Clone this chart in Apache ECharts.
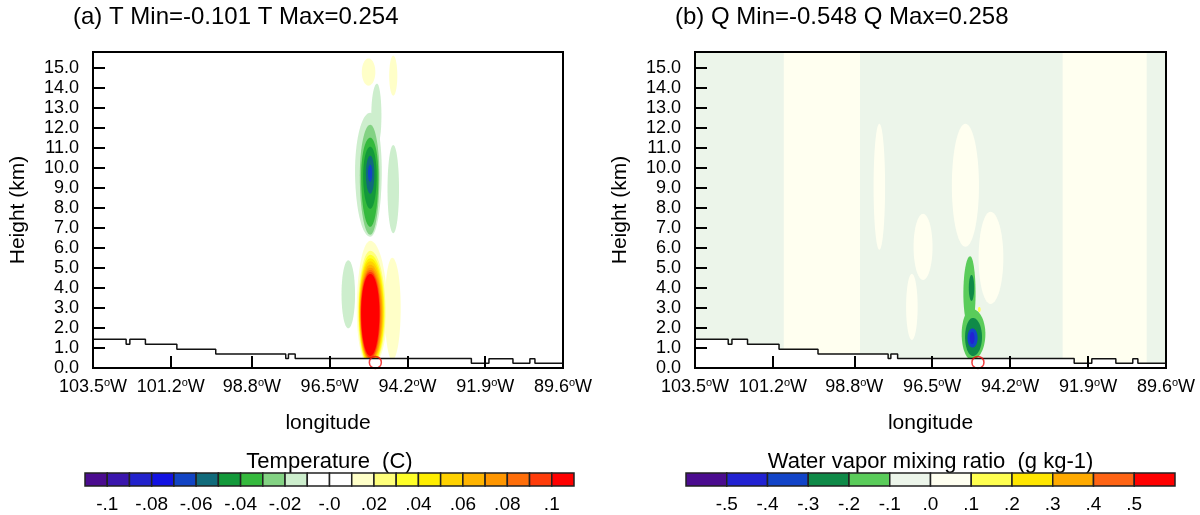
<!DOCTYPE html>
<html>
<head>
<meta charset="utf-8">
<script src="https://cdn.jsdelivr.net/npm/echarts@6/dist/echarts.min.js"></script>
<style>
  html, body { margin: 0; padding: 0; background: #fff; }
  #main { width: 1200px; height: 515px; }
</style>
</head>
<body>
<div id="main"></div>
<script>
// axis ticks
var lonTicks = [-103.5, -101.2, -98.8, -96.5, -94.2, -91.9, -89.6];
var heightTicks = [0, 1, 2, 3, 4, 5, 6, 7, 8, 9, 10, 11, 12, 13, 14, 15];
var hMax = 15.78;

// terrain profile (step starts) and the marked station
var terrainLon = [-103.5, -102.52, -102.41, -101.95, -101.02, -99.87, -97.8, -97.72, -97.52, -92.31, -91.79, -91.08, -90.58, -90.43, -89.6];
var terrainH = [1.43, 1.18, 1.43, 1.18, 0.94, 0.7, 0.48, 0.7, 0.48, 0.24, 0.46, 0.24, 0.46, 0.24, 0.24];
var station = [-95.15, 0.28];

// temperature contour levels / colours
var tLevels = [-0.1, -0.09, -0.08, -0.07, -0.06, -0.05, -0.04, -0.03, -0.02, -0.01, 0, 0.01, 0.02, 0.03, 0.04, 0.05, 0.06, 0.07, 0.08, 0.09, 0.1];
var tColours = ['#4b0c8f', '#3a16ad', '#2222cc', '#1212e2', '#1244c4', '#116b7b', '#13993a', '#35b93d', '#83d283', '#cdeecd', '#ffffff',
  '#ffffff', '#ffffc8', '#ffff7a', '#ffff28', '#ffee00', '#ffd200', '#ffb400', '#ff9600', '#ff6e0a', '#ff3c0a', '#ff0000'];
var tTickValues = [-0.1, -0.08, -0.06, -0.04, -0.02, 0, 0.02, 0.04, 0.06, 0.08, 0.1];
var tTickLabels = ['-.1', '-.08', '-.06', '-.04', '-.02', '-.0', '.02', '.04', '.06', '.08', '.1'];

// water vapour contour levels / colours
var qLevels = [-0.5, -0.4, -0.3, -0.2, -0.1, 0, 0.1, 0.2, 0.3, 0.4, 0.5];
var qColours = ['#4b0c8f', '#2222d2', '#1244c8', '#0f8a48', '#5acc5a', '#ecf5ea', '#fffff0', '#ffff50', '#ffe600', '#ffaa00', '#ff6414', '#ff0000'];
var qTickValues = [-0.5, -0.4, -0.3, -0.2, -0.1, 0, 0.1, 0.2, 0.3, 0.4, 0.5];
var qTickLabels = ['-.5', '-.4', '-.3', '-.2', '-.1', '.0', '.1', '.2', '.3', '.4', '.5'];

// contour regions:
// [lon centre, km centre, half width west, half width east, half height down, half height up, value]
var tRegions = [
  [-94.65, 3.0, 0.22, 0.25, 2.6, 2.5, 0.015],
  [-95.3, 2.85, 0.40, 0.50, 2.85, 3.5, 0.015],
  [-95.3, 2.8, 0.36, 0.45, 2.75, 3.05, 0.025],
  [-95.3, 2.8, 0.34, 0.42, 2.7, 2.85, 0.035],
  [-95.3, 2.78, 0.33, 0.40, 2.6, 2.7, 0.045],
  [-95.3, 2.78, 0.32, 0.38, 2.5, 2.55, 0.055],
  [-95.3, 2.76, 0.31, 0.36, 2.45, 2.4, 0.065],
  [-95.3, 2.76, 0.30, 0.34, 2.4, 2.25, 0.075],
  [-95.3, 2.75, 0.29, 0.31, 2.3, 2.15, 0.085],
  [-95.3, 2.75, 0.28, 0.29, 2.25, 2.05, 0.095],
  [-95.3, 2.75, 0.27, 0.27, 2.15, 1.95, 0.105],
  [-95.35, 14.78, 0.2, 0.2, 0.68, 0.68, 0.015],
  [-94.62, 14.6, 0.12, 0.12, 1.0, 1.0, 0.015],
  [-95.3, 9.85, 0.45, 0.34, 3.3, 2.9, -0.015],
  [-95.1, 12.6, 0.17, 0.13, 1.5, 1.6, -0.015],
  [-94.62, 8.93, 0.17, 0.17, 2.2, 2.2, -0.015],
  [-95.95, 3.68, 0.2, 0.2, 1.7, 1.7, -0.015],
  [-95.3, 9.6, 0.31, 0.27, 2.95, 2.55, -0.025],
  [-95.3, 9.6, 0.27, 0.24, 2.55, 1.9, -0.035],
  [-95.3, 9.6, 0.21, 0.19, 1.65, 1.45, -0.045],
  [-95.3, 9.7, 0.13, 0.12, 1.0, 0.9, -0.055],
  [-95.3, 9.75, 0.07, 0.06, 0.45, 0.4, -0.065]
];
// [lon west, lon east, value] full-height bands in panel (b)
var qStripes = [
  [-103.5, -89.6, -0.05],
  [-100.88, -98.63, 0.05],
  [-92.65, -90.17, 0.05]
];
var qRegions = [
  [-98.06, 9.05, 0.17, 0.17, 3.15, 3.15, 0.05],
  [-96.77, 6.05, 0.28, 0.28, 1.65, 1.65, 0.05],
  [-97.1, 3.05, 0.17, 0.17, 1.65, 1.65, 0.05],
  [-95.52, 9.1, 0.4, 0.4, 3.05, 3.1, 0.05],
  [-94.78, 5.5, 0.35, 0.38, 2.3, 2.3, 0.05],
  [-95.38, 3.7, 0.2, 0.16, 1.7, 1.88, -0.15],
  [-95.33, 1.7, 0.3, 0.4, 1.3, 1.25, -0.15],
  [-95.34, 4.0, 0.08, 0.08, 0.65, 0.65, -0.25],
  [-95.3, 1.55, 0.23, 0.27, 0.95, 0.95, -0.25],
  [-95.31, 1.5, 0.15, 0.15, 0.48, 0.48, -0.35],
  [-95.32, 1.5, 0.07, 0.07, 0.3, 0.3, -0.45],
  [-95.11, 2.92, 0.04, 0.04, 0.13, 0.13, 0.15]
];

var chartDom = document.getElementById('main');
var myChart = echarts.init(chartDom);

function colourFor(v, levels, colours) {
  for (var i = 0; i < levels.length; i++) {
    if (v < levels[i]) return colours[i];
  }
  return colours[colours.length - 1];
}

function regionItem(levels, colours) {
  return function (params, api) {
    var c = api.coord([api.value(0), api.value(1)]);
    var s = api.size([1, 1]);
    var wW = api.value(2) * s[0], wE = api.value(3) * s[0];
    var hD = api.value(4) * s[1], hU = api.value(5) * s[1];
    var pts = [];
    for (var k = 0; k < 72; k++) {
      var a = k / 72 * Math.PI * 2, cx = Math.cos(a), sy = Math.sin(a);
      pts.push([c[0] + cx * (cx < 0 ? wW : wE), c[1] - sy * (sy > 0 ? hU : hD)]);
    }
    return { type: 'polygon', shape: { points: pts }, style: { fill: colourFor(api.value(6), levels, colours) } };
  };
}

function stripeItem(params, api) {
  var p0 = api.coord([api.value(0), hMax]);
  var p1 = api.coord([api.value(1), 0]);
  return { type: 'rect', shape: { x: p0[0], y: p0[1], width: p1[0] - p0[0], height: p1[1] - p0[1] },
    style: { fill: colourFor(api.value(2), qLevels, qColours) } };
}

function barItem(colours) {
  return function (params, api) {
    var i = api.value(0);
    var p0 = api.coord([i, 1]), p1 = api.coord([i + 1, 0]);
    return { type: 'rect', shape: { x: p0[0], y: p0[1], width: p1[0] - p0[0], height: p1[1] - p0[1] },
      style: { fill: colours[i], stroke: '#222', lineWidth: 1.5 } };
  };
}

var terrainData = terrainLon.map(function (x, i) { return [x, terrainH[i]]; });

function lonAxis(gi) {
  return {
    gridIndex: gi, type: 'value', min: lonTicks[0], max: lonTicks[lonTicks.length - 1], z: 10,
    name: 'longitude', nameLocation: 'middle', nameGap: 45,
    nameTextStyle: { fontSize: 21, color: '#000' },
    axisLine: { show: true, onZero: false, lineStyle: { color: '#000', width: 2 } },
    axisTick: { show: true, inside: true, length: 12, customValues: lonTicks, lineStyle: { color: '#000', width: 2 } },
    axisLabel: {
      customValues: lonTicks, margin: 9, color: '#000',
      formatter: function (v) { return '{n|' + Math.abs(v).toFixed(1) + '}{s|o}{n|W}'; },
      rich: {
        n: { fontSize: 18, color: '#000', lineHeight: 20 },
        s: { fontSize: 11, color: '#000', lineHeight: 20, verticalAlign: 'top' }
      }
    },
    splitLine: { show: false }
  };
}

function heightAxis(gi) {
  return {
    gridIndex: gi, type: 'value', min: 0, max: hMax, z: 10,
    name: 'Height (km)', nameLocation: 'middle', nameGap: 64, nameRotate: 90,
    nameTextStyle: { fontSize: 21, color: '#000' },
    axisLine: { show: true, lineStyle: { color: '#000', width: 2 } },
    axisTick: { show: true, inside: true, length: 12, customValues: heightTicks, lineStyle: { color: '#000', width: 2 } },
    axisLabel: { customValues: heightTicks, margin: 14, fontSize: 18, color: '#000',
      formatter: function (v) { return v.toFixed(1); } },
    splitLine: { show: false }
  };
}

function barAxis(gi, levels, tickValues, tickLabels) {
  var pos = tickValues.map(function (v) { return levels.indexOf(v) + 1; });
  return {
    gridIndex: gi, type: 'value', min: 0, max: levels.length + 1,
    axisLine: { show: false }, axisTick: { show: false }, splitLine: { show: false },
    axisLabel: { customValues: pos, margin: 9, fontSize: 19, color: '#000',
      formatter: function (v) { return tickLabels[pos.indexOf(v)]; } }
  };
}

function panelSeries(gi, regions, levels, colours) {
  return [
    { type: 'custom', xAxisIndex: gi, yAxisIndex: gi, clip: true, silent: true, z: 1,
      data: regions, renderItem: regionItem(levels, colours) },
    { type: 'line', xAxisIndex: gi, yAxisIndex: gi, step: 'end', data: terrainData, symbol: 'none', silent: true, z: 3,
      lineStyle: { color: '#111', width: 1.5 }, areaStyle: { color: '#fff', opacity: 1, origin: 'start' } },
    { type: 'scatter', xAxisIndex: gi, yAxisIndex: gi, data: [station], symbol: 'circle', symbolSize: 12, silent: true, z: 4,
      itemStyle: { color: 'rgba(0,0,0,0)', borderColor: '#ee1111', borderWidth: 1.5 } }
  ];
}

var gridBase = { show: true, borderColor: '#000', borderWidth: 2, backgroundColor: 'transparent', z: 10, outerBoundsMode: 'none' };

var option = {
  animation: false,
  textStyle: { fontFamily: 'Liberation Sans, Arial, Helvetica, sans-serif', color: '#000' },
  grid: [
    Object.assign({ left: 93, top: 52, width: 470, height: 316 }, gridBase),
    Object.assign({ left: 695, top: 52, width: 471, height: 316 }, gridBase),
    { left: 85, top: 473, width: 489, height: 13, outerBoundsMode: 'none' },
    { left: 686, top: 473, width: 489, height: 13, outerBoundsMode: 'none' }
  ],
  xAxis: [
    lonAxis(0), lonAxis(1),
    barAxis(2, tLevels, tTickValues, tTickLabels),
    barAxis(3, qLevels, qTickValues, qTickLabels)
  ],
  yAxis: [
    heightAxis(0), heightAxis(1),
    { gridIndex: 2, type: 'value', min: 0, max: 1, show: false },
    { gridIndex: 3, type: 'value', min: 0, max: 1, show: false }
  ],
  graphic: [
    { type: 'text', x: 73, y: 17, style: { text: '(a) T Min=-0.101 T Max=0.254', fontSize: 24, fontFamily: 'Liberation Sans, Arial, sans-serif', fill: '#000', verticalAlign: 'middle' } },
    { type: 'text', x: 675, y: 17, style: { text: '(b) Q Min=-0.548 Q Max=0.258', fontSize: 24, fontFamily: 'Liberation Sans, Arial, sans-serif', fill: '#000', verticalAlign: 'middle' } },
    { type: 'text', x: 329.5, y: 462, style: { text: 'Temperature  (C)', fontSize: 22, fontFamily: 'Liberation Sans, Arial, sans-serif', fill: '#000', align: 'center', verticalAlign: 'middle' } },
    { type: 'text', x: 930.5, y: 462, style: { text: 'Water vapor mixing ratio  (g kg-1)', fontSize: 22, fontFamily: 'Liberation Sans, Arial, sans-serif', fill: '#000', align: 'center', verticalAlign: 'middle' } }
  ],
  series: [].concat(
    panelSeries(0, tRegions, tLevels, tColours),
    [{ type: 'custom', xAxisIndex: 1, yAxisIndex: 1, clip: true, silent: true, z: 0,
       data: qStripes, renderItem: stripeItem }],
    panelSeries(1, qRegions, qLevels, qColours),
    [
      { type: 'custom', xAxisIndex: 2, yAxisIndex: 2, silent: true,
        data: tColours.map(function (c, i) { return [i, 0.5]; }), renderItem: barItem(tColours) },
      { type: 'custom', xAxisIndex: 3, yAxisIndex: 3, silent: true,
        data: qColours.map(function (c, i) { return [i, 0.5]; }), renderItem: barItem(qColours) }
    ]
  )
};

myChart.setOption(option);
</script>
</body>
</html>
